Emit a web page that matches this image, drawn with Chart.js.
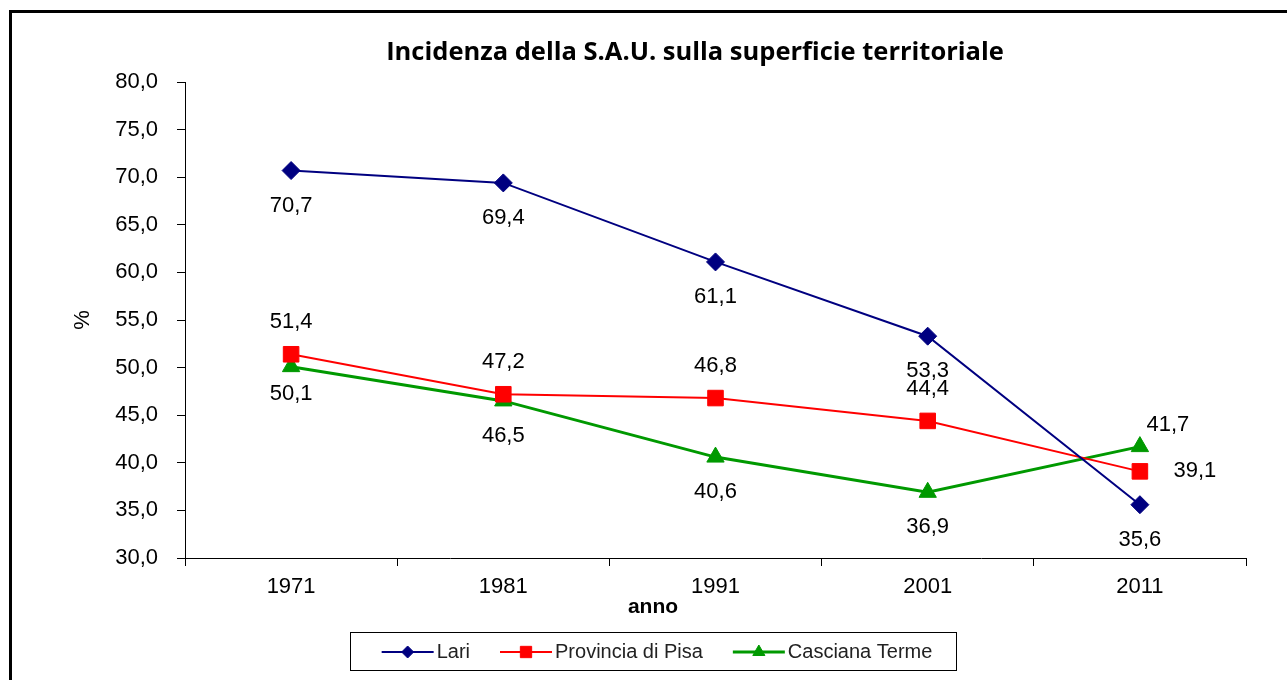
<!DOCTYPE html>
<html>
<head>
<meta charset="utf-8">
<script src="https://cdn.jsdelivr.net/npm/chart.js@4.4.1/dist/chart.umd.min.js"></script>
<style>
  body { margin: 0; background: #fff; }
  #wrap { position: relative; width: 1287px; height: 680px; overflow: hidden; }
  #frame { position: absolute; left: 9px; top: 10px; width: 1400px; height: 800px;
           border-top: 3px solid #000; border-left: 3px solid #000; box-sizing: border-box; }
  #chart { position: absolute; left: 0; top: 0; }
</style>
</head>
<body>
<div id="wrap">
  <div id="frame"></div>
  <canvas id="chart" width="1287" height="680"></canvas>
</div>
<script>
// Incidenza della S.A.U. sulla superficie territoriale

const years = ['1971', '1981', '1991', '2001', '2011'];

const lari = [70.7, 69.4, 61.1, 53.3, 35.6];
const provinciaPisa = [51.4, 47.2, 46.8, 44.4, 39.1];
const cascianaTerme = [50.1, 46.5, 40.6, 36.9, 41.7];

const yMin = 30;
const yMax = 80;
const yStep = 5;

// where each value label sits relative to its point
const labelPlacement = [
    ['below', 'below', 'below', 'below', 'below'],
    ['above', 'above', 'above', 'above', 'right'],
    ['belowNear', 'below', 'below', 'below', 'aboveRight']
];

const fmt = v => v.toFixed(1).replace('.', ',');
const tickFont = { family: 'Liberation Sans', size: 22 };

// value labels, title, x-axis title and boxed legend
const excelLook = {
    id: 'excelLook',
    afterDatasetsDraw(chart) {
        const ctx = chart.ctx;
        ctx.save();
        ctx.font = '22px "Liberation Sans"';
        ctx.fillStyle = '#000';
        ctx.textAlign = 'center';
        ctx.textBaseline = 'middle';
        chart.data.datasets.forEach((ds, i) => {
            chart.getDatasetMeta(i).data.forEach((pt, j) => {
                let dx = 0, dy = 0;
                const where = labelPlacement[i][j];
                if (where === 'below') dy = 35;
                if (where === 'belowNear') dy = 27;
                if (where === 'above') dy = -32;
                if (where === 'right') dx = 55;
                if (where === 'aboveRight') { dx = 28; dy = -22; }
                ctx.fillText(fmt(ds.data[j]), pt.x + dx, pt.y + dy);
            });
        });
        ctx.restore();
    },
    afterDraw(chart) {
        const ctx = chart.ctx;
        ctx.save();
        ctx.fillStyle = '#000';
        ctx.textBaseline = 'middle';
        ctx.textAlign = 'center';

        // title
        ctx.font = 'bold 25.5px "Open Sans"';
        ctx.fillText('Incidenza della S.A.U. sulla superficie territoriale', 695, 53);

        // x axis title
        ctx.font = 'bold 21px "Liberation Sans"';
        ctx.fillText('anno', 653, 607);

        // legend box
        const boxL = 350, boxR = 956, boxT = 632, boxB = 670;
        ctx.strokeStyle = '#000';
        ctx.lineWidth = 1;
        ctx.strokeRect(boxL + 0.5, boxT + 0.5, boxR - boxL, boxB - boxT);

        ctx.font = '20px "Liberation Sans"';
        const lineLen = 52, gapText = 3, gapItem = 30;
        const items = chart.data.datasets.map(ds => ({ ds, w: ctx.measureText(ds.label).width }));
        const total = items.reduce((s, it) => s + lineLen + gapText + it.w, 0) + gapItem * (items.length - 1);
        let x = (boxL + boxR) / 2 - total / 2 + 4;
        const y = (boxT + boxB) / 2 + 1;
        items.forEach(it => {
            const ds = it.ds;
            ctx.strokeStyle = ds.borderColor;
            ctx.lineWidth = ds.borderWidth;
            ctx.beginPath();
            ctx.moveTo(x, y);
            ctx.lineTo(x + lineLen, y);
            ctx.stroke();
            ctx.fillStyle = ds.borderColor;
            ctx.lineWidth = 1;
            Chart.helpers.drawPoint(ctx, {
                pointStyle: ds.pointStyle,
                rotation: 0,
                radius: ds.legendRadius,
                borderWidth: 1
            }, x + lineLen / 2, y);
            ctx.fillStyle = '#222';
            ctx.textAlign = 'left';
            ctx.fillText(ds.label, x + lineLen + gapText, y);
            x += lineLen + gapText + it.w + gapItem;
        });
        ctx.restore();
    }
};

new Chart(document.getElementById('chart'), {
    type: 'line',
    data: {
        labels: years,
        datasets: [
            {
                label: 'Lari',
                data: lari,
                borderColor: '#000080',
                backgroundColor: '#000080',
                borderWidth: 2,
                pointStyle: 'rectRot',
                pointRadius: 9,
                pointBorderWidth: 1,
                legendRadius: 6
            },
            {
                label: 'Provincia di Pisa',
                data: provinciaPisa,
                borderColor: '#ff0000',
                backgroundColor: '#ff0000',
                borderWidth: 2,
                pointStyle: 'rect',
                pointRadius: 11,
                pointBorderWidth: 1,
                legendRadius: 8
            },
            {
                label: 'Casciana Terme',
                data: cascianaTerme,
                borderColor: '#009900',
                backgroundColor: '#009900',
                borderWidth: 3,
                pointStyle: 'triangle',
                pointRadius: 10,
                pointBorderWidth: 1,
                legendRadius: 7
            }
        ]
    },
    options: {
        responsive: false,
        animation: false,
        layout: { padding: { left: 60, right: 41, top: 82, bottom: 0 } },
        plugins: {
            legend: { display: false },
            title: { display: false },
            tooltip: { enabled: false }
        },
        scales: {
            x: {
                offset: true,
                grid: { display: true, offset: true, drawOnChartArea: false, tickLength: 8, color: '#000' },
                border: { color: '#000', width: 1 },
                ticks: { font: tickFont, color: '#000', padding: 8, maxRotation: 0 },
                afterFit(scale) { scale.height = 122; }
            },
            y: {
                min: yMin,
                max: yMax,
                grid: { display: true, drawOnChartArea: false, tickLength: 8, color: '#000' },
                border: { color: '#000', width: 1 },
                ticks: { stepSize: yStep, font: tickFont, color: '#000', padding: 19, callback: v => fmt(v) },
                title: { display: true, text: '%', font: { family: 'Liberation Sans', size: 22 }, color: '#000', padding: { top: 10, bottom: 0 } },
                afterFit(scale) { scale.width = 125; }
            }
        }
    },
    plugins: [excelLook]
});
</script>
</body>
</html>
